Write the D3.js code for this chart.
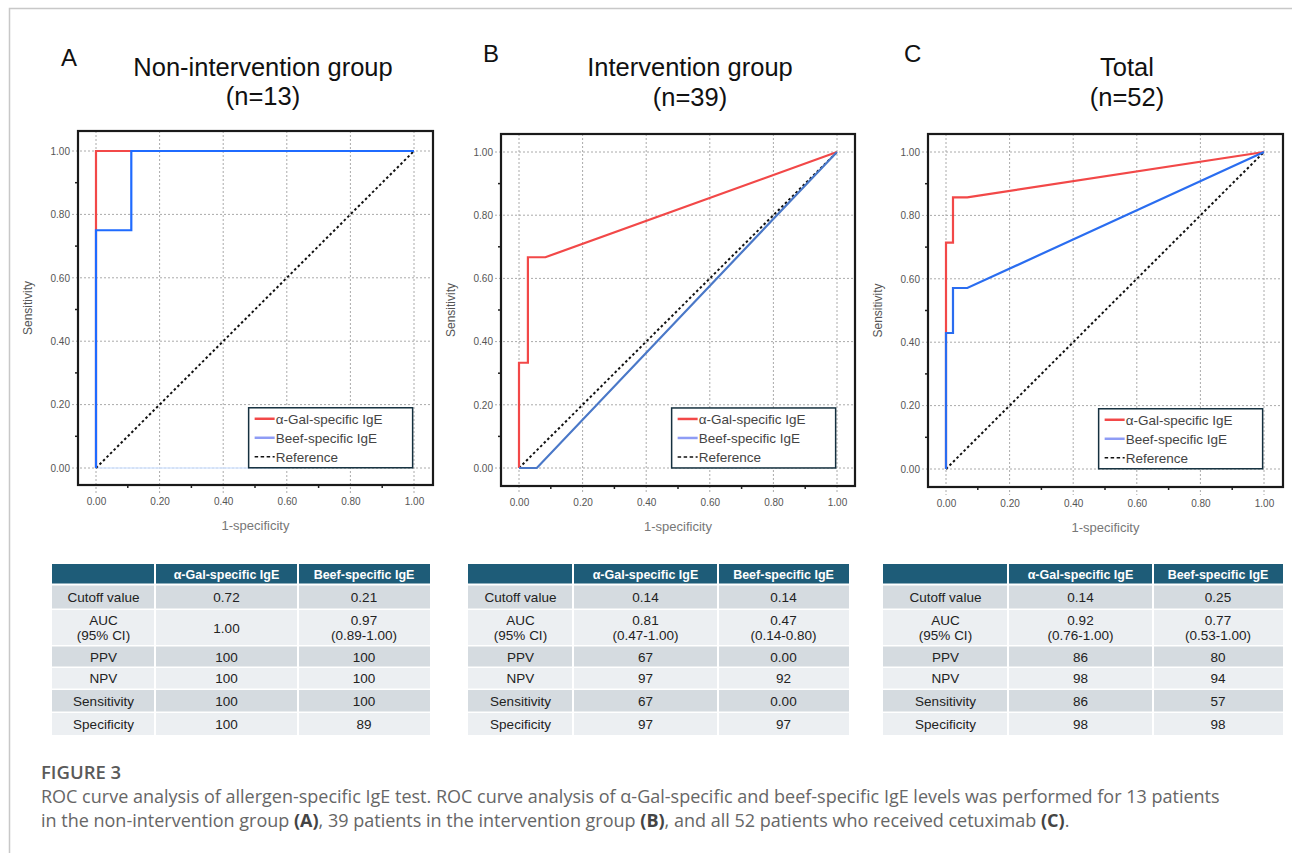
<!DOCTYPE html>
<html><head><meta charset="utf-8">
<script src="https://cdn.jsdelivr.net/npm/d3@7"></script>
<style>
body{margin:0;background:#fff;}
svg{display:block;}
</style></head>
<body><svg id="c" width="1292" height="853"></svg>
<script>
// ---------- DATA ----------
const panelLetters = ["A", "B", "C"];
const panelTitles = ["Non-intervention group", "Intervention group", "Total"];
const panelN = ["(n=13)", "(n=39)", "(n=52)"];
const seriesNames = ["α-Gal-specific IgE", "Beef-specific IgE", "Reference"];
const axisTicks = [0, 0.2, 0.4, 0.6, 0.8, 1.0];
const minorTicks = [0.1, 0.3, 0.5, 0.7, 0.9];
const xTitle = "1-specificity";
const yTitle = "Sensitivity";

// ROC points [1-specificity, sensitivity]
const galA = [[0,0],[0,1],[0.111,1],[1,1]];
const beefA = [[0,0],[0,0.75],[0.111,0.75],[0.111,1],[1,1]];
const galB = [[0,0],[0,0.333],[0.028,0.333],[0.028,0.667],[0.083,0.667],[1,1]];
const beefB = [[0,0],[0.056,0],[1,1]];
const galC = [[0,0],[0,0.714],[0.022,0.714],[0.022,0.857],[0.067,0.857],[1,1]];
const beefC = [[0,0],[0,0.429],[0.022,0.429],[0.022,0.571],[0.067,0.571],[1,1]];
const refLine = [[0,0],[1,1]];
const faintBaseA = [[0,0],[0.6,0]];

// table
const tableHeader = ["", "α-Gal-specific IgE", "Beef-specific IgE"];
const rowLabels = ["Cutoff value", "AUC\n(95% CI)", "PPV", "NPV", "Sensitivity", "Specificity"];
const galValues = [
  ["0.72", "1.00", "100", "100", "100", "100"],
  ["0.14", "0.81\n(0.47-1.00)", "67", "97", "67", "97"],
  ["0.14", "0.92\n(0.76-1.00)", "86", "98", "86", "98"]
];
const beefValues = [
  ["0.21", "0.97\n(0.89-1.00)", "100", "100", "100", "89"],
  ["0.14", "0.47\n(0.14-0.80)", "0.00", "92", "0.00", "97"],
  ["0.25", "0.77\n(0.53-1.00)", "80", "94", "57", "98"]
];
const captionHead = "FIGURE 3";
const captionLines = [
  [["ROC curve analysis of allergen-specific IgE test. ROC curve analysis of α-Gal-specific and beef-specific IgE levels was performed for 13 patients", false]],
  [["in the non-intervention group ", false], ["(A)", true], [", 39 patients in the intervention group ", false], ["(B)", true], [", and all 52 patients who received cetuximab ", false], ["(C)", true], [".", false]]
];

// ---------- LAYOUT ----------
const galSeries = [galA, galB, galC];
const beefSeries = [beefA, beefB, beefC];
const layout = [
  {box:[78,131,433,485], x:[96,414], y:[468,151], letter:[61,66], tc:263, t1:76, t2:105, blue:"#1f6bff", table:[52,155,298,430]},
  {box:[501,134,855,486], x:[519,837], y:[468,152], letter:[483,62], tc:690, t1:76, t2:106, blue:"#4a78c8", table:[468,573,718,849]},
  {box:[928,134,1283,487], x:[946,1264], y:[469,152], letter:[904,62], tc:1127, t1:76, t2:106, blue:"#2a6df0", table:[883,1008,1153,1283]}
];
const RED = "#f24848";
const FONT = "'Liberation Sans', Arial, sans-serif";

const svg = d3.select("#c");
// outer frame
svg.append("path").attr("d","M9.5,853 V8.5 H1292").attr("fill","none").attr("stroke","#c8c8c8").attr("stroke-width",1.5);

layout.forEach((L, i) => {
  const g = svg.append("g");
  const xs = d3.scaleLinear().domain([0,1]).range(L.x);
  const ys = d3.scaleLinear().domain([0,1]).range(L.y);
  const [bx0, by0, bx1, by1] = L.box;

  // titles
  g.append("text").attr("x", L.letter[0]).attr("y", L.letter[1]).text(panelLetters[i])
    .attr("font-family", FONT).attr("font-size", 24).attr("fill", "#111");
  g.append("text").attr("x", L.tc).attr("y", L.t1).attr("text-anchor","middle").text(panelTitles[i])
    .attr("font-family", FONT).attr("font-size", 25.5).attr("fill", "#111");
  g.append("text").attr("x", L.tc).attr("y", L.t2).attr("text-anchor","middle").text(panelN[i])
    .attr("font-family", FONT).attr("font-size", 25.5).attr("fill", "#111");

  // gridlines
  g.selectAll(".hg").data(axisTicks).join("line")
    .attr("x1", bx0 - 6).attr("x2", bx1).attr("y1", d => ys(d)).attr("y2", d => ys(d))
    .attr("stroke", "#aaa").attr("stroke-width", 1).attr("stroke-dasharray", "2,2");
  g.selectAll(".vg").data(axisTicks).join("line")
    .attr("y1", by0).attr("y2", by1 + 8).attr("x1", d => xs(d)).attr("x2", d => xs(d))
    .attr("stroke", "#aaa").attr("stroke-width", 1).attr("stroke-dasharray", "2,2");

  // minor ticks
  g.selectAll(".mt").data(minorTicks).join("line")
    .attr("x1", bx0 - 3).attr("x2", bx0).attr("y1", d => ys(d)).attr("y2", d => ys(d))
    .attr("stroke", "#222").attr("stroke-width", 1.5);
  g.selectAll(".mtx").data(minorTicks).join("line")
    .attr("y1", by1).attr("y2", by1 + 3).attr("x1", d => xs(d)).attr("x2", d => xs(d))
    .attr("stroke", "#222").attr("stroke-width", 1.5);

  // tick labels via axes
  const yAx = d3.axisLeft(ys).tickValues(axisTicks).tickFormat(d3.format(".2f")).tickSize(0).tickPadding(0);
  const ya = g.append("g").attr("transform", `translate(${bx0 - 8},0)`).call(yAx);
  const xAx = d3.axisBottom(xs).tickValues(axisTicks).tickFormat(d3.format(".2f")).tickSize(0).tickPadding(0);
  const xa = g.append("g").attr("transform", `translate(0,${by1 + 13})`).call(xAx);
  [ya, xa].forEach(a => {
    a.select(".domain").remove();
    a.selectAll("text").attr("font-family", FONT).attr("font-size", 10).attr("fill", "#555");
  });
  ya.selectAll("text").attr("dy", "0.32em");
  xa.selectAll("text").attr("dy", "0.71em");

  // axis titles
  g.append("text").attr("x", (bx0 + bx1) / 2).attr("y", by1 + 45).attr("text-anchor","middle")
    .text(xTitle).attr("font-family", FONT).attr("font-size", 13).attr("fill", "#777");
  g.append("text").attr("transform", `translate(${bx0 - 46},${(by0 + by1) / 2}) rotate(-90)`)
    .attr("text-anchor","middle").text(yTitle).attr("font-family", FONT).attr("font-size", 12).attr("fill", "#555");

  const line = d3.line().x(d => xs(d[0])).y(d => ys(d[1]));
  if (i === 0) {
    g.append("path").attr("d", line(faintBaseA)).attr("fill","none").attr("stroke","#d6e6ff").attr("stroke-width", 1.5);
  }
  // reference
  g.append("path").attr("d", line(refLine)).attr("fill","none").attr("stroke","#111")
    .attr("stroke-width", 2).attr("stroke-dasharray", "2.5,2.5");
  // gal then beef
  g.append("path").attr("d", line(galSeries[i])).attr("fill","none").attr("stroke", RED).attr("stroke-width", 2.2);
  g.append("path").attr("d", line(beefSeries[i])).attr("fill","none").attr("stroke", L.blue).attr("stroke-width", 2.2);

  // box
  g.append("rect").attr("x", bx0).attr("y", by0).attr("width", bx1 - bx0).attr("height", by1 - by0)
    .attr("fill","none").attr("stroke","#1a1a1a").attr("stroke-width", 2.2);

  // legend
  const lx = xs(0.48), ly = ys(0.19), lw = 164, lh = 60;
  const lg = g.append("g").attr("transform", `translate(${lx},${ly})`);
  lg.append("rect").attr("width", lw).attr("height", lh).attr("fill","#fff").attr("stroke","#15303f").attr("stroke-width", 1.5);
  const colors = [RED, "#8e9cf5", "#111"];
  seriesNames.forEach((s, k) => {
    const yy = 11 + k * 19;
    lg.append("line").attr("x1", 6).attr("x2", 26).attr("y1", yy).attr("y2", yy)
      .attr("stroke", colors[k]).attr("stroke-width", k === 2 ? 1.5 : 2.5)
      .attr("stroke-dasharray", k === 2 ? "3.5,2.5" : null);
    lg.append("text").attr("x", 27).attr("y", yy + 5).text(s)
      .attr("font-family", FONT).attr("font-size", 13.5).attr("fill", "#444");
  });

  // table
  const [c0, c1, c2, c3] = L.table;
  const rowTops = [564, 585.5, 610, 646.5, 668, 690, 713];
  const rowBots = [583.5, 608.5, 645, 666.5, 688.5, 711.5, 735];
  const cols = [[c0, c1], [c1, c2], [c2, c3]];
  const tg = svg.append("g");
  for (let r = 0; r < 7; r++) {
    const fill = r === 0 ? "#1e5c78" : (r % 2 === 1 ? "#d5dbe0" : "#eceff2");
    cols.forEach((c, k) => {
      tg.append("rect").attr("x", c[0] + (k ? 1 : 0)).attr("y", rowTops[r])
        .attr("width", c[1] - c[0] - (k ? 1 : 0) - (k < 2 ? 1 : 0)).attr("height", rowBots[r] - rowTops[r]).attr("fill", fill);
      let txt;
      if (r === 0) txt = tableHeader[k];
      else txt = k === 0 ? rowLabels[r - 1] : (k === 1 ? galValues[i][r - 1] : beefValues[i][r - 1]);
      const parts = txt.split("\n");
      const cy = (rowTops[r] + rowBots[r]) / 2;
      const t = tg.append("text").attr("x", (c[0] + c[1]) / 2).attr("text-anchor","middle")
        .attr("font-family", FONT).attr("font-size", r === 0 ? 12.5 : 13.5)
        .attr("font-weight", r === 0 ? "bold" : "normal")
        .attr("fill", r === 0 ? "#fff" : "#222");
      parts.forEach((p, j) => {
        t.append("tspan").attr("x", (c[0] + c[1]) / 2)
          .attr("y", cy + 5 + (j - (parts.length - 1) / 2) * 15).text(p);
      });
    });
  }
});

// caption
const CF = "'Open Sans', sans-serif";
svg.append("text").attr("x", 41).attr("y", 779).text(captionHead)
  .attr("font-family", CF).attr("font-size", 18.5).attr("font-weight", 600).attr("fill", "#5a5a5a");
captionLines.forEach((ln, k) => {
  const t = svg.append("text").attr("x", 41).attr("y", 803 + k * 24)
    .attr("font-family", CF).attr("font-size", 18).attr("fill", "#666");
  ln.forEach(([s, b]) => t.append("tspan").text(s).attr("font-weight", b ? 700 : 400).attr("fill", b ? "#444" : "#666"));
});
</script></body></html>
